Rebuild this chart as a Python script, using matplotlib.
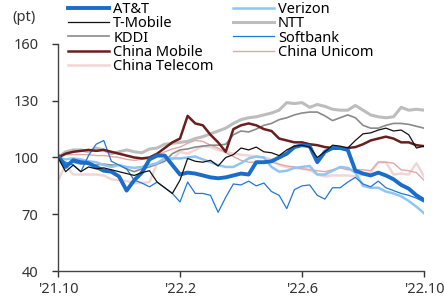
import numpy as np
import matplotlib
matplotlib.use("Agg")
import matplotlib.pyplot as plt

plt.rcParams['font.family'] = ['Noto Sans', 'DejaVu Sans']

# months since Oct 2021, sampled every quarter month
t = np.arange(49) * 0.25

tick_pos = [0, 4, 8, 12]
tick_labels = ["'21.10", "'22.2", "'22.6", "'22.10"]
y_ticks = [40, 70, 100, 130, 160]

att = [101, 95, 98.5, 97.5, 97, 95, 93, 92.5, 90, 82.5, 88, 92, 99, 101, 101, 96, 91,
       92, 91.5, 90.5, 89.5, 89, 89.5, 90.5, 91.5, 91, 97.5, 97.5, 98, 100, 102, 105.5,
       106.5, 106, 97.5, 103, 105, 105, 104, 93, 91.5, 90.5, 92, 90.5, 88.5, 85.5, 83.5,
       80, 77.5]
verizon = [100, 99, 99.5, 99, 98, 97.5, 96, 95, 96, 95, 94.5, 95, 96, 97, 99.5, 99.5,
           99.5, 100, 100.5, 99, 97.5, 96, 95, 95, 97, 99.5, 100.5, 100, 95, 92.5, 93,
           94.5, 95, 95.5, 91, 91, 93, 95, 94.5, 92, 85, 84, 84, 82, 81, 79.5, 77, 74, 70.5]
tmobile = [100, 92.5, 96, 92.5, 95, 94, 94.5, 93.5, 92.5, 91.5, 90.5, 92, 93, 87, 84, 81,
           88, 99.5, 98, 97.5, 98.5, 95.5, 100, 101.5, 105, 104, 105.5, 103, 102.5, 101,
           104, 106, 106.5, 105.5, 100, 103, 106.5, 106, 105, 109, 112.5, 113, 114.5,
           115.5, 114, 114.5, 112, 105, 106]
ntt = [100, 103, 104, 104, 103, 105, 104, 102, 103, 104, 103, 102.5, 104.5, 105, 107,
       107.5, 108, 108.5, 110, 111, 112.5, 114, 115.5, 118, 120, 121, 121.5, 122.5, 123.5,
       125, 129, 128.5, 129, 126.5, 128, 127, 125.5, 125, 125, 127.5, 125, 122.5, 121.5,
       121, 121.5, 126.5, 125, 125.5, 125]
kddi = [100, 97, 97.5, 96.5, 97, 96, 96.5, 96, 96, 94, 92.5, 94, 95, 96.5, 98, 102, 104,
        104.5, 105.5, 106, 106.5, 106.5, 107, 112, 114, 113.5, 115, 117, 118, 120, 121,
        122.5, 123.5, 124, 124, 122, 119.5, 121, 122.5, 121, 117, 115.5, 115.5, 117, 118,
        118, 117.5, 116.5, 115.5]
softbank = [100, 97.5, 96, 92.5, 101, 107, 109, 98, 96, 94, 88, 86.5, 84.5, 87, 84, 81,
            76.5, 87, 81, 81, 80, 71, 79, 86, 85.5, 87.5, 85, 86.5, 82, 80, 73, 83, 85,
            85.5, 80, 78, 84, 84, 87, 89.5, 86, 84.5, 87.5, 84, 82.5, 81, 80, 78.5, 76.5]
china_mobile = [100, 102, 103, 103.5, 104, 103.5, 104, 103, 102, 101, 100, 99.5, 100, 102,
                105, 108, 110, 122, 118, 117, 112, 108, 103, 115, 117, 118, 117, 115, 114,
                110, 109, 108, 108, 107, 106.5, 105.5, 105, 105, 105, 105.5, 107, 109, 110,
                111, 110, 108, 108, 106.5, 106]
china_unicom = [100, 101.5, 101.5, 101.5, 101.5, 101, 101, 100.5, 100, 99, 98.5, 99, 99.5,
                101, 103, 104.5, 105.5, 107.5, 109, 108.5, 106.5, 105, 102.5, 100.5, 98.5,
                97.5, 97.5, 97.5, 97.5, 96.5, 95.5, 95, 94, 93.5, 93, 92.5, 93.5, 94.5, 93.5,
                93.5, 93.5, 93, 97.5, 97.5, 97, 93.5, 93, 92, 88]
china_telecom = [88, 96, 91, 91, 91, 91, 90.5, 88.5, 88, 87.5, 86.5, 86.5, 87, 97, 99.5, 99,
                 103, 102, 104, 106, 105.5, 104, 103, 102, 101.5, 101, 100.5, 100, 99, 96,
                 95, 94.5, 94, 93.5, 91, 90, 90.5, 90.5, 90.5, 90, 91, 92, 97.5, 97.5, 91,
                 91.5, 91, 97, 90]

fig = plt.figure(figsize=(4.44, 2.99), dpi=100)
ax = fig.add_axes([0.1306, 0.0936, 0.8244, 0.7594])

lines = {}
lines['China Telecom'], = ax.plot(t, china_telecom, color='#f3d5d5', lw=1.8)
lines['China Unicom'], = ax.plot(t, china_unicom, color='#e2a7a7', lw=1.0)
lines['NTT'], = ax.plot(t, ntt, color='#bdbdbd', lw=2.2)
lines['KDDI'], = ax.plot(t, kddi, color='#8a8a8a', lw=1.2)
lines['Verizon'], = ax.plot(t, verizon, color='#8ec5f4', lw=1.8)
lines['Softbank'], = ax.plot(t, softbank, color='#1f78d6', lw=0.9)
lines['China Mobile'], = ax.plot(t, china_mobile, color='#6b1e1e', lw=1.8)
lines['AT&T'], = ax.plot(t, att, color='#1a6dc8', lw=2.8)
lines['T-Mobile'], = ax.plot(t, tmobile, color='#111111', lw=0.9)

order = ['AT&T', 'T-Mobile', 'KDDI', 'China Mobile', 'China Telecom',
         'Verizon', 'NTT', 'Softbank', 'China Unicom']
fig.legend([lines[k] for k in order], order, ncol=2, frameon=False,
           loc='upper left', bbox_to_anchor=(68 / 444, 1 - 2 / 299),
           borderpad=0, borderaxespad=0, fontsize=10.5, handlelength=2.8,
           handletextpad=0.3, columnspacing=1.3, labelspacing=-0.05)

ax.set_xlim(0, 12)
ax.set_ylim(40, 160)
ax.set_xticks(tick_pos)
ax.set_xticklabels(tick_labels)
ax.set_yticks(y_ticks)
for s in ['top', 'right']:
    ax.spines[s].set_visible(False)
for s in ['left', 'bottom']:
    ax.spines[s].set_color('#444444')
    ax.spines[s].set_linewidth(1.0)
ax.tick_params(axis='both', labelsize=10.5, colors='#333333', length=4, width=1)
ax.tick_params(axis='x', pad=4)
ax.tick_params(axis='y', pad=10)

fig.text(0.028, 0.94, '(pt)', fontsize=10.5, color='#333333', va='center')

fig.savefig('out.png', dpi=100)
